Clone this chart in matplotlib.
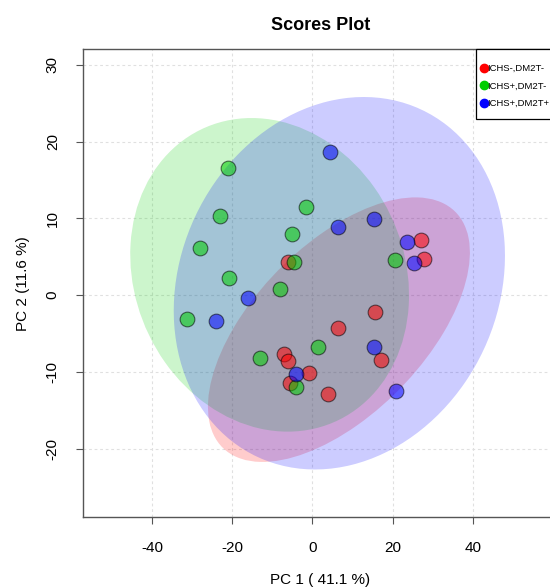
import matplotlib
matplotlib.use("Agg")
import matplotlib.pyplot as plt
from matplotlib.patches import Ellipse, Rectangle
import numpy as np

plt.rcParams['font.family'] = ['Liberation Sans', 'DejaVu Sans']
plt.rcParams['axes.unicode_minus'] = False

# PCA scores
groups = ['ICHS-,DM2T-', 'ICHS+,DM2T-', 'ICHS+,DM2T+']
colors = ['#FF0000', '#00CD00', '#0000FF']

red_x = [27.2, 27.9, -6.0, 6.3, 15.6, -7.0, -6.0, -0.8, -5.5, 4.0, 17.1]
red_y = [7.2, 4.7, 4.3, -4.3, -2.2, -7.7, -8.6, -10.1, -11.4, -12.8, -8.4]

green_x = [-21.1, -23.1, -1.5, -5.0, -27.9, -20.9, -4.5, 20.6, -8.1, -31.2, -13.1, 1.3, -4.0]
green_y = [16.6, 10.3, 11.5, 8.0, 6.1, 2.3, 4.3, 4.6, 0.8, -3.1, -8.2, -6.8, -11.9]

blue_x = [4.5, 6.3, 15.3, 23.6, 25.4, -16.1, -23.9, 15.3, -4.0, 20.9]
blue_y = [18.7, 8.9, 9.9, 6.9, 4.2, -0.3, -3.4, -6.7, -10.2, -12.4]

xs = [red_x, green_x, blue_x]
ys = [red_y, green_y, blue_y]

fig = plt.figure(figsize=(5.5, 5.87), dpi=100)
ax = fig.add_axes([0.1515, 0.1187, 0.8613, 0.7973])

# 95% confidence ellipses (chi-square, 2 df)
k = np.sqrt(-2 * np.log(0.05))
for x, y, c in zip(xs, ys, colors):
    pts = np.vstack([x, y])
    cov = np.cov(pts)
    vals, vecs = np.linalg.eigh(cov)
    order = vals.argsort()[::-1]
    vals, vecs = vals[order], vecs[:, order]
    ang = np.degrees(np.arctan2(vecs[1, 0], vecs[0, 0]))
    e = Ellipse((np.mean(x), np.mean(y)), 2 * k * np.sqrt(vals[0]), 2 * k * np.sqrt(vals[1]),
                angle=ang, facecolor=c, alpha=0.2, edgecolor='none', zorder=1)
    ax.add_patch(e)

for x, y, c in zip(xs, ys, colors):
    ax.scatter(x, y, s=112, color=c, alpha=0.55, edgecolors='black', linewidths=0.8, zorder=3)

ax.set_xlim(-57.1, 61)
ax.set_ylim(-28.9, 32.0)
ax.set_xticks([-40, -20, 0, 20, 40])
ax.set_yticks([-20, -10, 0, 10, 20, 30])
ax.grid(True, color='#e0e0e0', linestyle=(0, (2.5, 2.5)), linewidth=0.8, zorder=0)
ax.set_axisbelow(True)

for s in ax.spines.values():
    s.set_color('#555555')
    s.set_linewidth(1.0)

ax.tick_params(axis='x', length=5, width=0.8, color='#555555', labelsize=11, pad=12)
ax.tick_params(axis='y', length=5, width=0.8, color='#555555', labelsize=11, pad=17)
for lab in ax.get_yticklabels():
    lab.set_rotation(90)
    lab.set_va('center')
    lab.set_ha('center')

ax.set_title('Scores Plot', fontsize=13, fontweight='bold', pad=14)
ax.set_xlabel('PC 1 ( 41.1 %)', fontsize=11, labelpad=13)
ax.set_ylabel('PC 2 (11.6 %)', fontsize=11, labelpad=11)

# legend box in R style
ax.add_patch(Rectangle((0.828, 0.851), 0.4, 0.149, transform=ax.transAxes,
                       facecolor='white', edgecolor='black', linewidth=0.9,
                       clip_on=False, zorder=5))
handles = [plt.Line2D([], [], marker='o', linestyle='none', color=c, markersize=6) for c in colors]
leg = ax.legend(handles, groups, loc='upper left', bbox_to_anchor=(0.83, 0.977),
                frameon=False, fontsize=6.8, handlelength=0.7, handletextpad=0.05,
                labelspacing=0.9, borderaxespad=0)
leg.set_zorder(6)

fig.savefig('out.png', dpi=100)
